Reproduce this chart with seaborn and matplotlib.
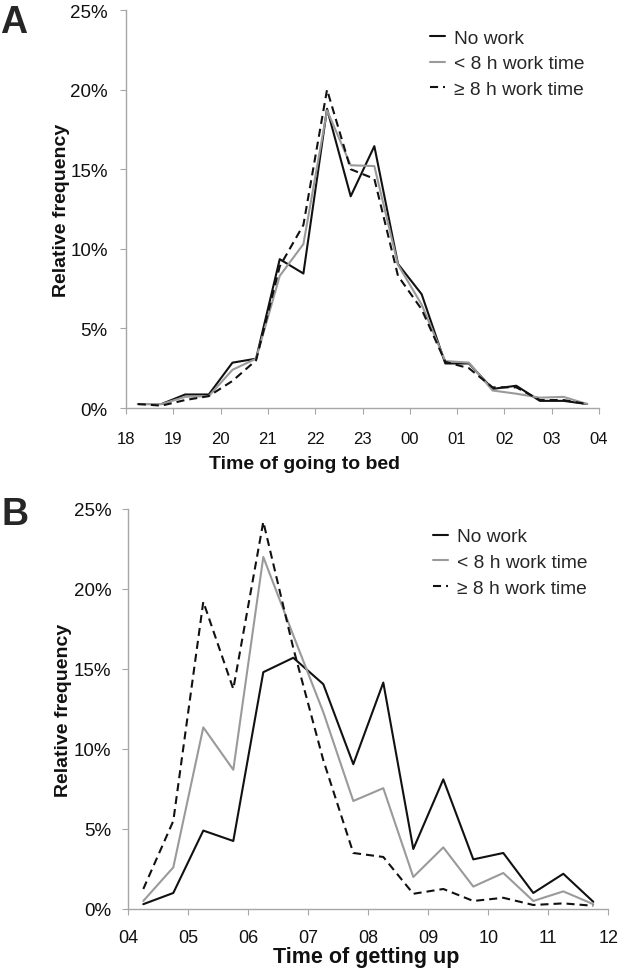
import matplotlib
matplotlib.use("Agg")
import matplotlib.pyplot as plt
import seaborn as sns
import pandas as pd
from matplotlib.ticker import FuncFormatter

# bins (half-hour intervals, plotted at their centre)
bed_times = [18.25, 18.75, 19.25, 19.75, 20.25, 20.75, 21.25, 21.75, 22.25, 22.75,
             23.25, 23.75, 24.25, 24.75, 25.25, 25.75, 26.25, 26.75, 27.25, 27.75]
bed_no_work = [0.25, 0.25, 0.85, 0.85, 2.85, 3.1, 9.35, 8.45, 18.8, 13.3,
               16.45, 9.05, 7.15, 2.8, 2.8, 1.2, 1.4, 0.45, 0.45, 0.25]
bed_lt8 = [0.25, 0.25, 0.7, 0.75, 2.4, 3.1, 8.3, 10.3, 18.7, 15.25,
           15.2, 9.0, 6.5, 2.95, 2.85, 1.1, 0.9, 0.65, 0.7, 0.25]
bed_ge8 = [0.25, 0.15, 0.5, 0.75, 1.7, 3.0, 8.9, 11.5, 20.0, 15.0,
           14.4, 8.3, 6.2, 2.9, 2.5, 1.3, 1.3, 0.5, 0.5, 0.25]
bed_ticks = [18, 19, 20, 21, 22, 23, 24, 25, 26, 27, 28]
bed_ticklabels = ['18', '19', '20', '21', '22', '23', '00', '01', '02', '03', '04']

up_times = [4.25, 4.75, 5.25, 5.75, 6.25, 6.75, 7.25, 7.75,
            8.25, 8.75, 9.25, 9.75, 10.25, 10.75, 11.25, 11.75]
up_no_work = [0.3, 1.0, 4.9, 4.25, 14.8, 15.7, 14.05, 9.05,
              14.15, 3.75, 8.1, 3.1, 3.5, 1.0, 2.2, 0.45]
up_lt8 = [0.5, 2.6, 11.35, 8.7, 22.0, 17.1, 12.3, 6.75,
          7.55, 2.0, 3.85, 1.4, 2.25, 0.5, 1.1, 0.3]
up_ge8 = [1.25, 5.5, 19.2, 13.75, 24.2, 16.3, 9.3, 3.5,
          3.25, 0.95, 1.25, 0.5, 0.7, 0.25, 0.35, 0.2]
up_ticks = [4, 5, 6, 7, 8, 9, 10, 11, 12]
up_ticklabels = ['04', '05', '06', '07', '08', '09', '10', '11', '12']

groups = ['No work', '< 8 h work time', '≥ 8 h work time']
palette = {groups[0]: '#111111', groups[1]: '#9a9a9a', groups[2]: '#111111'}
dashes = {groups[0]: '', groups[1]: '', groups[2]: (5.8, 3.6)}

sns.set_theme(style='white')
plt.rcParams['font.family'] = ['Liberation Sans', 'DejaVu Sans']
plt.rcParams['lines.scale_dashes'] = False


def long_form(times, series):
    frames = []
    for g, vals in zip(groups, series):
        frames.append(pd.DataFrame({'time': times, 'freq': vals, 'group': g}))
    return pd.concat(frames, ignore_index=True)


def style_axis(ax, xlim, ticks, ticklabels, xtick_size, xpad, ypad):
    ax.set_xlim(*xlim)
    ax.set_ylim(0, 25)
    ax.set_xticks(ticks)
    ax.set_xticklabels(ticklabels)
    ax.set_yticks([0, 5, 10, 15, 20, 25])
    ax.yaxis.set_major_formatter(FuncFormatter(lambda v, p: f'{v:.0f}%'))
    for s in ['top', 'right']:
        ax.spines[s].set_visible(False)
    for s in ['left', 'bottom']:
        ax.spines[s].set_color('#a6a6a6')
        ax.spines[s].set_linewidth(1.0)
    ax.tick_params(axis='x', bottom=True, direction='out', length=4.5, width=0.8,
                   color='#a6a6a6', labelsize=xtick_size, pad=xpad, labelcolor='#111111')
    ax.tick_params(axis='y', left=True, direction='out', length=4.5, width=0.8,
                   color='#a6a6a6', labelsize=13.5, pad=ypad, labelcolor='#111111')


fig = plt.figure(figsize=(6.18, 9.79), dpi=100)
ax1 = fig.add_axes([0.2039, 0.5822, 0.7654, 0.4065])
ax2 = fig.add_axes([0.2076, 0.0705, 0.7767, 0.4086])

panels = [
    (ax1, long_form(bed_times, [bed_no_work, bed_lt8, bed_ge8]), (18, 28), bed_ticks,
     bed_ticklabels, 12, 12.0, 8.6, 'Time of going to bed', 14, (0.378, -0.118),
     (0.6427, 0.952)),
    (ax2, long_form(up_times, [up_no_work, up_lt8, up_ge8]), (4, 12), up_ticks,
     up_ticklabels, 13, 10.0, 7.6, 'Time of getting up', 15.5, (0.495, -0.092),
     (0.635, 0.9525)),
]

for ax, df, xlim, ticks, ticklabels, xts, xpad, ypad, xlabel, xls, xlab_pos, leg_pos in panels:
    sns.lineplot(data=df, x='time', y='freq', hue='group', style='group',
                 hue_order=groups, style_order=groups, palette=palette,
                 dashes=dashes, linewidth=1.5, legend=False, ax=ax)
    style_axis(ax, xlim, ticks, ticklabels, xts, xpad, ypad)
    ax.set_xlabel(xlabel, fontsize=xls, fontweight='bold', color='#111111')
    ax.set_ylabel('Relative frequency', fontsize=14, fontweight='bold', color='#111111')
    ax.xaxis.set_label_coords(*xlab_pos)
    ax.yaxis.set_label_coords(-0.118, 0.5)
    ax.legend(ax.get_lines()[:3], groups, loc='upper left', bbox_to_anchor=leg_pos,
              frameon=False, fontsize=13.8, handlelength=0.8, handletextpad=0.45,
              labelspacing=0.43, borderpad=0, borderaxespad=0)

fig.text(0.0, 1 - 5 / 979, 'A', fontsize=27, fontweight='bold', va='top', ha='left')
fig.text(0.002, 1 - 497 / 979, 'B', fontsize=27, fontweight='bold', va='top', ha='left')

fig.savefig('out.png', dpi=100)
